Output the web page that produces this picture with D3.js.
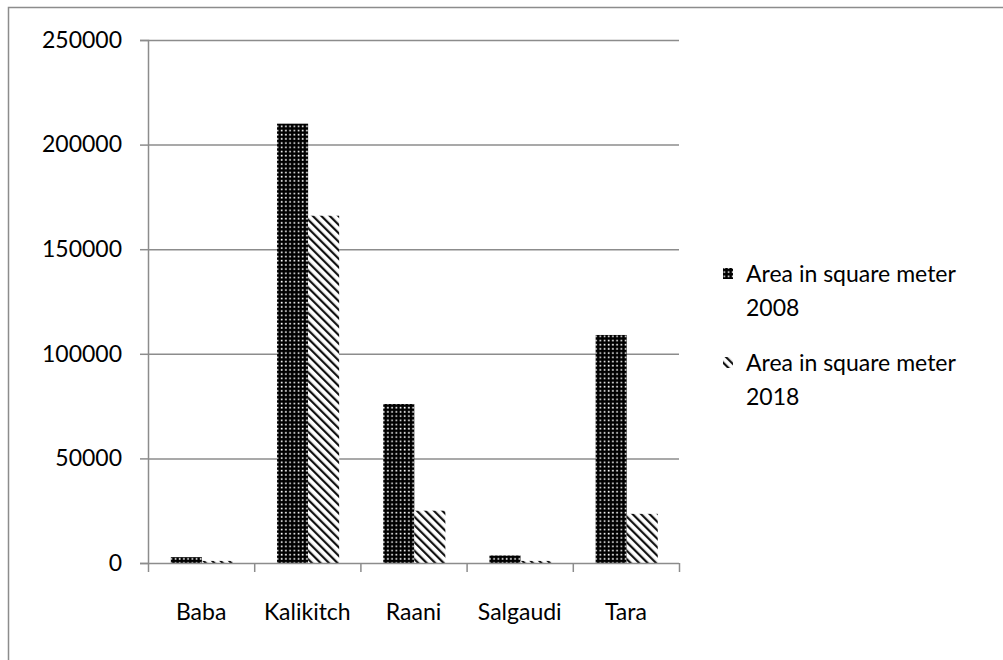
<!DOCTYPE html>
<html>
<head>
<meta charset="utf-8">
<script src="https://cdn.jsdelivr.net/npm/d3@7"></script>
<style>
  body { margin: 0; background: #fff; }
  svg text { font-family: Lato, "Open Sans", sans-serif; fill: #000; }
</style>
</head>
<body>
<script>
// Values
var categories = ["Baba", "Kalikitch", "Raani", "Salgaudi", "Tara"];
var seriesNames = ["Area in square meter 2008", "Area in square meter 2018"];
var area2008 = [2800, 210000, 76000, 3600, 109000];
var area2018 = [1000, 166000, 25000, 1000, 23500];
var yTicks = [0, 50000, 100000, 150000, 200000, 250000];

var data = categories.map(function (c, i) {
    return { name: c, values: [area2008[i], area2018[i]] };
});

var W = 1003, H = 660;
var margin = { top: 40, right: 324, bottom: 97, left: 148 };
var width = W - margin.left - margin.right,
    height = H - margin.top - margin.bottom;

var svg = d3.select("body").append("svg")
    .attr("width", W)
    .attr("height", H);

// fill patterns
var defs = svg.append("defs");
var dots = defs.append("pattern")
    .attr("id", "pat2008")
    .attr("patternUnits", "userSpaceOnUse")
    .attr("width", 4.2).attr("height", 4.2);
dots.append("rect").attr("width", 4.2).attr("height", 4.2).attr("fill", "#000");
dots.append("rect").attr("x", 1.5).attr("y", 1.5).attr("width", 1.6).attr("height", 1.6).attr("fill", "#fff");

var stripes = defs.append("pattern")
    .attr("id", "pat2018")
    .attr("patternUnits", "userSpaceOnUse")
    .attr("width", 6).attr("height", 6)
    .attr("patternTransform", "rotate(-45)");
stripes.append("rect").attr("width", 6).attr("height", 6).attr("fill", "#fff");
stripes.append("rect").attr("x", 0).attr("y", 0).attr("width", 2.2).attr("height", 6).attr("fill", "#111");

var fills = ["url(#pat2008)", "url(#pat2018)"];

// outer frame
svg.append("rect")
    .attr("x", 8.5).attr("y", 7.5)
    .attr("width", W).attr("height", H)
    .attr("fill", "none")
    .attr("stroke", "#8c8c8c")
    .attr("stroke-width", 1.5);

var g = svg.append("g")
    .attr("transform", "translate(" + margin.left + "," + margin.top + ")");

var yScale = d3.scaleLinear()
    .domain([0, 250000])
    .range([height, 0]);

var xScale = d3.scaleBand()
    .domain(categories)
    .range([0, width]);

var x1 = d3.scaleBand()
    .domain([0, 1])
    .range([xScale.bandwidth() * 0.215, xScale.bandwidth() * 0.8]);

// gridlines
g.selectAll(".grid")
    .data(yTicks.slice(1))
    .enter().append("line")
    .attr("class", "grid")
    .attr("x1", 0).attr("x2", width)
    .attr("y1", function (d) { return yScale(d) + 0.5; })
    .attr("y2", function (d) { return yScale(d) + 0.5; })
    .attr("stroke", "#8c8c8c")
    .attr("stroke-width", 1.5);

// bars
var groups = g.selectAll(".cat")
    .data(data)
    .enter().append("g")
    .attr("class", "cat")
    .attr("transform", function (d) { return "translate(" + xScale(d.name) + ",0)"; });

groups.selectAll("rect")
    .data(function (d) { return d.values; })
    .enter().append("rect")
    .attr("x", function (d, i) { return x1(i); })
    .attr("y", function (d) { return yScale(d); })
    .attr("width", x1.bandwidth())
    .attr("height", function (d) { return height - yScale(d); })
    .attr("fill", function (d, i) { return fills[i]; });

// y axis
var yAxis = d3.axisLeft(yScale)
    .tickValues(yTicks)
    .tickSize(8)
    .tickPadding(18)
    .tickFormat(d3.format("d"));

var yAxisGroup = g.append("g")
    .attr("class", "y axis")
    .call(yAxis);

// x axis
var xAxis = d3.axisBottom(xScale)
    .tickSize(0)
    .tickPadding(41);

var xAxisGroup = g.append("g")
    .attr("class", "x axis")
    .attr("transform", "translate(0," + height + ")")
    .call(xAxis);

// x tick marks at category boundaries
xAxisGroup.selectAll(".bound")
    .data(categories.concat(["end"]))
    .enter().append("line")
    .attr("class", "bound")
    .attr("x1", function (d, i) { return i * xScale.step() + 0.5; })
    .attr("x2", function (d, i) { return i * xScale.step() + 0.5; })
    .attr("y1", 0).attr("y2", 9)
    .attr("stroke", "#8c8c8c")
    .attr("stroke-width", 1.5);

g.selectAll(".axis .domain, .axis .tick line")
    .attr("stroke", "#8c8c8c")
    .attr("stroke-width", 1.5);
xAxisGroup.select(".domain").attr("d", "M0,0.5H" + width);

g.selectAll(".axis text")
    .attr("font-size", "23px")
    .style("font-family", "Lato, 'Open Sans', sans-serif")
    .attr("fill", "#000");

// legend
var legend = svg.append("g")
    .attr("transform", "translate(722,274)");

var items = legend.selectAll(".item")
    .data(seriesNames)
    .enter().append("g")
    .attr("class", "item")
    .attr("transform", function (d, i) { return "translate(0," + i * 89 + ")"; });

items.append("rect")
    .attr("x", 1).attr("y", -6)
    .attr("width", 10).attr("height", 11)
    .attr("fill", function (d, i) { return fills[i]; });

items.append("text")
    .attr("x", 24)
    .attr("font-size", "23px")
    .each(function (d) {
        var t = d3.select(this);
        var yr = d.slice(-4);
        t.append("tspan").attr("x", 24).attr("dy", "0.35em").text(d.slice(0, -5));
        t.append("tspan").attr("x", 24).attr("dy", 34).text(yr);
    });
</script>
</body>
</html>
